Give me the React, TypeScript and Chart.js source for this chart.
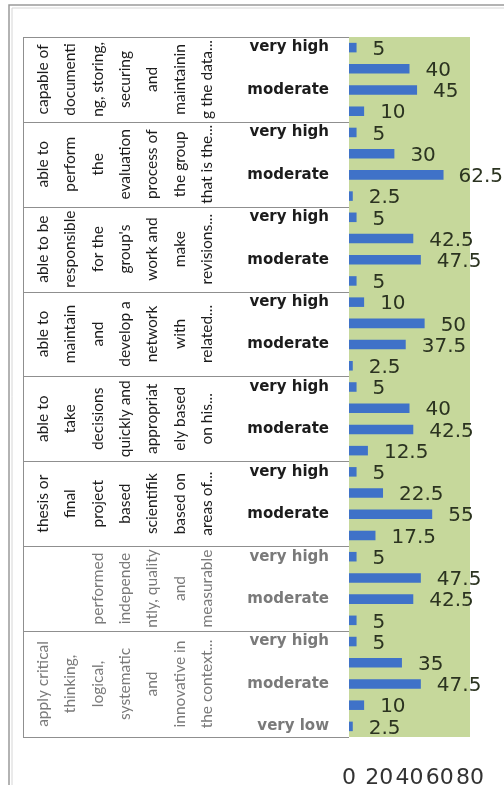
import React, { useEffect, useRef } from "react";
import { Chart, registerables } from "chart.js";

Chart.register(...registerables);

// ---------- data ----------
const levelsFour = ["very high", "high", "moderate", "low"];
const levelsFive = ["very high", "high", "moderate", "low", "very low"];

const group1Lines = ["capable of", "documenti", "ng, storing,", "securing", "and", "maintainin", "g the data..."];
const group2Lines = ["able to", "perform", "the", "evaluation", "process of", "the group", "that is the..."];
const group3Lines = ["able to be", "responsible", "for the", "group's", "work and", "make", "revisions..."];
const group4Lines = ["able to", "maintain", "and", "develop a", "network", "with", "related..."];
const group5Lines = ["able to", "take", "decisions", "quickly and", "appropriat", "ely based", "on his..."];
const group6Lines = ["thesis or", "final", "project", "based", "scientifik", "based on", "areas of..."];
const group7Lines = ["", "", "performed", "independe", "ntly, quality", "and", "measurable"];
const group8Lines = ["apply critical", "thinking,", "logical,", "systematic", "and", "innovative in", "the context..."];

const group1Values = [5, 40, 45, 10];
const group2Values = [5, 30, 62.5, 2.5];
const group3Values = [5, 42.5, 47.5, 5];
const group4Values = [10, 50, 37.5, 2.5];
const group5Values = [5, 40, 42.5, 12.5];
const group6Values = [5, 22.5, 55, 17.5];
const group7Values = [5, 47.5, 42.5, 5];
const group8Values = [5, 35, 47.5, 10, 2.5];

const xMin = 0;
const xMax = 80;
const xStep = 20;

// ---------- assembled structures ----------
const groups = [
  { lines: group1Lines, levels: levelsFour, values: group1Values },
  { lines: group2Lines, levels: levelsFour, values: group2Values },
  { lines: group3Lines, levels: levelsFour, values: group3Values },
  { lines: group4Lines, levels: levelsFour, values: group4Values },
  { lines: group5Lines, levels: levelsFour, values: group5Values },
  { lines: group6Lines, levels: levelsFour, values: group6Values },
  { lines: group7Lines, levels: levelsFour, values: group7Values },
  { lines: group8Lines, levels: levelsFive, values: group8Values },
];

const categoryLabels: string[] = groups.flatMap((g) => g.levels);
const barValues: number[] = groups.flatMap((g) => g.values);

// ---------- styles ----------
const W = 504;
const H = 785;
const PLOT_BG = "#c6d89b";
const BAR_COLOR = "#3f72c8";
const LABEL_COLOR = "#2b3320";
const LINE_COLOR = "#8f8f8f";
const FADED_FROM_GROUP = 6; // groups from this index on are printed lighter
const TEXT_DARK = "#1c1c1c";
const TEXT_FADED = "#7a7a7a";
const TABLE_LEFT = 23;
const GROUP_TEXT_X0 = 43;
const GROUP_LINE_GAP = 27.3;

const App: React.FC = () => {
  const canvasRef = useRef<HTMLCanvasElement | null>(null);

  useEffect(() => {
    const canvas = canvasRef.current;
    if (!canvas) return;

    const groupStarts: number[] = [];
    let acc = 0;
    groups.forEach((g) => {
      groupStarts.push(acc);
      acc += g.values.length;
    });
    const fadedStartIndex = groupStarts[FADED_FROM_GROUP];

    const backgroundPlugin = {
      id: "bgFrame",
      beforeDraw(chart: any) {
        const { ctx, chartArea } = chart;
        ctx.save();
        ctx.fillStyle = "#ffffff";
        ctx.fillRect(0, 0, chart.width, chart.height);
        ctx.strokeStyle = "#9a9a9a";
        ctx.lineWidth = 1.5;
        ctx.beginPath();
        ctx.moveTo(9, chart.height);
        ctx.lineTo(9, 5);
        ctx.lineTo(chart.width, 5);
        ctx.stroke();
        ctx.strokeStyle = "#d6d6d6";
        ctx.lineWidth = 1;
        ctx.beginPath();
        ctx.moveTo(12, chart.height);
        ctx.lineTo(12, 8);
        ctx.lineTo(chart.width, 8);
        ctx.stroke();
        ctx.fillStyle = PLOT_BG;
        ctx.fillRect(chartArea.left, chartArea.top, chartArea.right - chartArea.left, chartArea.bottom - chartArea.top);
        ctx.restore();
      },
    };

    const tablePlugin = {
      id: "groupTable",
      afterDraw(chart: any) {
        const { ctx, chartArea } = chart;
        const yScale = chart.scales.y;
        const half = (yScale.getPixelForValue(1) - yScale.getPixelForValue(0)) / 2;
        ctx.save();
        ctx.strokeStyle = LINE_COLOR;
        ctx.lineWidth = 1;
        ctx.beginPath();
        ctx.moveTo(TABLE_LEFT + 0.5, chartArea.top);
        ctx.lineTo(TABLE_LEFT + 0.5, chartArea.bottom);
        ctx.stroke();
        groups.forEach((g, gi) => {
          const s = groupStarts[gi];
          const n = g.values.length;
          const top = yScale.getPixelForValue(s) - half;
          const bottom = yScale.getPixelForValue(s + n - 1) + half;
          ctx.strokeStyle = LINE_COLOR;
          ctx.beginPath();
          ctx.moveTo(TABLE_LEFT, Math.round(top) + 0.5);
          ctx.lineTo(chartArea.left, Math.round(top) + 0.5);
          if (gi === groups.length - 1) {
            ctx.moveTo(TABLE_LEFT, Math.round(bottom) + 0.5);
            ctx.lineTo(chartArea.left, Math.round(bottom) + 0.5);
          }
          ctx.stroke();
          const cy = (top + bottom) / 2;
          ctx.fillStyle = gi >= FADED_FROM_GROUP ? TEXT_FADED : TEXT_DARK;
          ctx.font = "15.5px Lato, 'DejaVu Sans', sans-serif";
          ctx.textAlign = "center";
          ctx.textBaseline = "middle";
          g.lines.forEach((line, li) => {
            if (!line) return;
            const x = GROUP_TEXT_X0 + li * GROUP_LINE_GAP;
            ctx.save();
            ctx.translate(x, cy);
            ctx.rotate(-Math.PI / 2);
            ctx.fillText(line, 0, 0);
            ctx.restore();
          });
        });
        ctx.restore();
      },
    };

    const labelPlugin = {
      id: "barLabels",
      afterDatasetsDraw(chart: any) {
        const { ctx } = chart;
        const meta = chart.getDatasetMeta(0);
        ctx.save();
        ctx.font = "20px 'DejaVu Sans', sans-serif";
        ctx.fillStyle = LABEL_COLOR;
        ctx.textAlign = "left";
        ctx.textBaseline = "middle";
        meta.data.forEach((bar: any, i: number) => {
          const text = String(barValues[i]);
          const w = ctx.measureText(text).width;
          let x = bar.x + 16;
          if (x + w > chart.width - 1) x = chart.width - 1 - w;
          ctx.fillText(text, x, bar.y + 2);
        });
        ctx.restore();
      },
    };

    const chart = new Chart(canvas, {
      type: "bar",
      data: {
        labels: categoryLabels,
        datasets: [
          {
            data: barValues,
            backgroundColor: BAR_COLOR,
            barPercentage: 0.45,
            categoryPercentage: 1.0,
          },
        ],
      },
      options: {
        indexAxis: "y",
        responsive: false,
        animation: false,
        devicePixelRatio: 1,
        layout: { padding: { top: 37, right: 34, left: 0, bottom: 0 } },
        plugins: {
          legend: { display: false },
          tooltip: { enabled: false },
        },
        scales: {
          x: {
            min: xMin,
            max: xMax,
            grid: { display: false },
            border: { display: false },
            ticks: {
              stepSize: xStep,
              autoSkip: false,
              maxRotation: 0,
              minRotation: 0,
              padding: 20,
              color: "#333",
              font: { family: "'DejaVu Sans', sans-serif", size: 22 },
            },
            afterFit(scale: any) {
              scale.height = 48;
            },
          },
          y: {
            type: "category",
            grid: { display: false },
            border: { display: false },
            ticks: {
              autoSkip: false,
              padding: 12,
              color: (c: any) => (c.index >= fadedStartIndex ? TEXT_FADED : TEXT_DARK),
              font: { family: "'DejaVu Sans', sans-serif", size: 15, weight: "bold" },
              callback: (_v: any, index: number) => (index % 2 === 0 ? categoryLabels[index] : ""),
            },
            afterFit(scale: any) {
              scale.width = 349;
            },
          },
        },
      } as any,
      plugins: [backgroundPlugin, tablePlugin, labelPlugin],
    });

    return () => chart.destroy();
  }, []);

  return (
    <div style={{ position: "fixed", left: 0, top: 0, width: W, height: H, background: "#fff" }}>
      <canvas ref={canvasRef} width={W} height={H} style={{ width: W, height: H, display: "block" }} />
    </div>
  );
};

export default App;
